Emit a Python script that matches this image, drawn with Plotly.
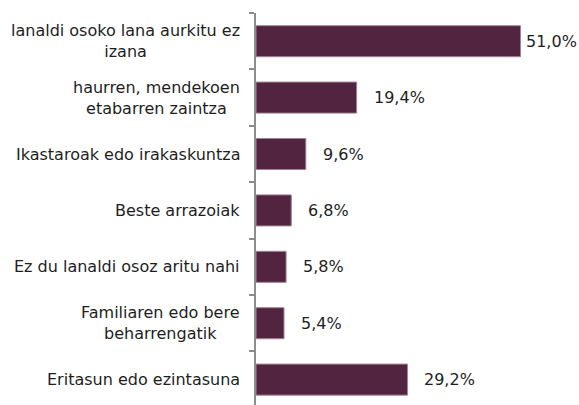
import plotly.graph_objects as go

categories = [
    "lanaldi osoko lana aurkitu ez<br>izana",
    "haurren, mendekoen<br>etabarren zaintza",
    "Ikastaroak edo irakaskuntza",
    "Beste arrazoiak",
    "Ez du lanaldi osoz aritu nahi",
    "Familiaren edo bere<br>beharrengatik",
    "Eritasun edo ezintasuna",
]
values = [51.0, 19.4, 9.6, 6.8, 5.8, 5.4, 29.2]
value_labels = ["51,0%", "19,4%", "9,6%", "6,8%", "5,8%", "5,4%", "29,2%"]

FONT = "DejaVu Sans, Verdana, sans-serif"
BAR = "#52243F"
AXIS = "#8C8C8C"
TXT = "#1E1E1E"

fig = go.Figure()
fig.add_trace(go.Bar(
    x=values,
    y=list(range(len(categories))),
    orientation="h",
    width=0.55,
    marker=dict(color=BAR, line=dict(color="#A08496", width=1)),
    hoverinfo="skip",
))

annotations = []
vmax = max(values)
for i, (cat, v, lab) in enumerate(zip(categories, values, value_labels)):
    annotations.append(dict(
        x=0, xref="paper", y=i, yref="y", text=cat, showarrow=False,
        xanchor="right", yanchor="middle", align="center", xshift=-14,
        font=dict(family=FONT, size=16, color=TXT),
    ))
    annotations.append(dict(
        x=v, xref="x", y=i, yref="y", text=lab, showarrow=False,
        xanchor="left", yanchor="middle", xshift=3 if v == vmax else 15,
        font=dict(family=FONT, size=16, color=TXT),
    ))

fig.update_layout(
    width=579, height=405,
    margin=dict(l=256, r=4, t=13, b=0),
    paper_bgcolor="white", plot_bgcolor="white",
    showlegend=False,
    annotations=annotations,
    xaxis=dict(range=[0, 61.5], visible=False, fixedrange=True),
    yaxis=dict(
        range=[6.45, -0.5],
        tickmode="array",
        tickvals=[i - 0.5 for i in range(len(categories))],
        ticktext=["" for _ in categories],
        ticks="outside", ticklen=5, tickwidth=2, tickcolor=AXIS,
        showline=True, linecolor=AXIS, linewidth=2,
        showgrid=False, zeroline=False, fixedrange=True,
    ),
)

fig.write_html(
    "out.html",
    config={"displayModeBar": False},
    post_script="document.body.style.margin='0';document.body.style.overflow='hidden';",
)
